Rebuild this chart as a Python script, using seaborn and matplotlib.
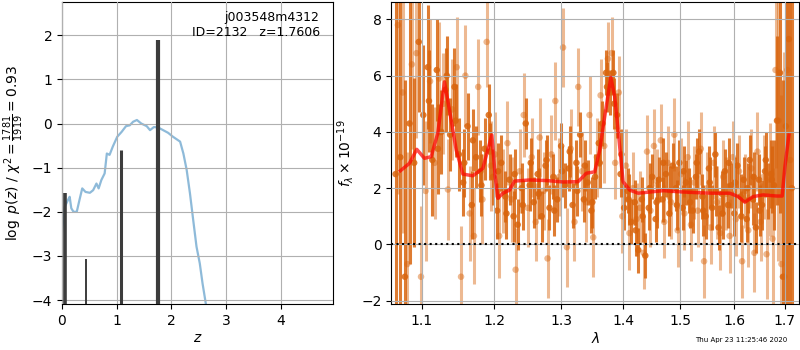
# Redshift fit summary: log p(z) on the left, 1D spectrum with model on the right.

import matplotlib
matplotlib.use("Agg")
import numpy as np
import pandas as pd
import seaborn as sns
import matplotlib.pyplot as plt
from matplotlib.ticker import NullLocator, NullFormatter

# ---- left panel: p(z) curve and chi2 spikes ----
z_grid = [0.0, 0.02, 0.05, 0.11, 0.14, 0.17, 0.21, 0.27, 0.32, 0.37, 0.43, 0.51,
          0.57, 0.63, 0.67, 0.72, 0.78, 0.82, 0.87, 0.93, 1.01, 1.09, 1.17, 1.24,
          1.30, 1.37, 1.45, 1.55, 1.61, 1.68, 1.76, 1.85, 1.94, 2.03, 2.16, 2.22,
          2.28, 2.34, 2.40, 2.46, 2.52, 2.57, 2.63, 2.68]
logp = [-2.45, -2.19, -1.89, -1.73, -1.66, -1.92, -2.00, -2.00, -1.73, -1.47, -1.55,
        -1.57, -1.51, -1.36, -1.47, -1.28, -1.13, -0.68, -0.71, -0.52, -0.30, -0.19,
        -0.06, -0.04, 0.04, 0.08, 0.00, -0.06, -0.15, -0.08, -0.09, -0.15, -0.21,
        -0.30, -0.41, -0.68, -1.05, -1.58, -2.19, -2.79, -3.17, -3.62, -4.08, -4.6]

spike_z = [0.05, 0.43, 1.08, 1.75]
spike_top = [-1.58, -3.06, -0.60, 1.89]
spike_width = [2.6, 1.4, 2.2, 3.0]

# ---- right panel: spectrum ----
wave_a = [1.066, 1.072, 1.078, 1.084, 1.090, 1.096, 1.102, 1.108, 1.114, 1.120,
          1.126, 1.132, 1.138, 1.144, 1.150, 1.156, 1.162, 1.168, 1.174, 1.180,
          1.186, 1.192, 1.198, 1.204, 1.210, 1.216, 1.222, 1.228, 1.234, 1.240,
          1.246, 1.252, 1.258, 1.264, 1.270, 1.276, 1.282, 1.288, 1.294, 1.300,
          1.306, 1.312, 1.318, 1.324, 1.330, 1.336, 1.342, 1.348, 1.354, 1.360,
          1.366, 1.372, 1.378, 1.384, 1.390, 1.396, 1.402, 1.408, 1.414, 1.420,
          1.426, 1.432, 1.438, 1.444, 1.450, 1.456, 1.462, 1.468, 1.474, 1.480,
          1.486, 1.492, 1.498, 1.504, 1.510, 1.516, 1.522, 1.528, 1.534, 1.540,
          1.546, 1.552, 1.558, 1.564, 1.570, 1.576, 1.582, 1.588, 1.594, 1.600,
          1.606, 1.612, 1.618, 1.624, 1.630, 1.636, 1.642, 1.648, 1.654, 1.660,
          1.666, 1.672, 1.678, 1.684, 1.690, 1.696, 1.702, 1.708, 1.714]
flux_a = [2.5, 3.1, -1.15, 4.3, 2.9, 7.2, 4.6, 6.3, 3.0, 6.2,
          4.0, 5.5, 3.9, 5.6, 3.2, 2.2, 4.2, 1.4, 3.1, 2.6,
          3.4, 4.6, 2.4, 1.2, 2.9, 1.7, 2.3, 1.0, 0.7, 2.0,
          4.3, 2.1, 1.5, 2.5, 1.0, 2.8, 1.3, 2.4, 1.6, 3.5,
          2.1, 2.7, 1.4, 2.9, 3.9, 1.6, 2.2, 1.2, 2.4, 3.6,
          4.3, 6.1, 5.4, 6.1, 4.6, 2.5, 1.3, 1.9, 0.8, 1.5,
          -0.2, 1.6, -0.4, 1.3, 2.4, 0.9, 2.3, 1.6, 2.5, 1.1,
          2.8, 2.0, 2.9, 1.3, 2.2, 1.9, 1.2, 2.4, 3.3, 1.7,
          1.0, 2.7, 1.3, 3.2, 0.6, 1.8, 2.6, 1.4, 2.1, 1.1,
          2.8, 1.7, 2.3, 0.9, 3.0, 1.6, 0.6, 2.3, 1.4, 2.6,
          1.9, 2.5, 2.1, 4.4, 6.1, -1.15, 4.2, 7.3, 2.0]
err_a = [8, 9, 7, 5, 3, 2.5, 2.5, 2.2, 2.0, 1.8,
         1.5, 1.5, 1.3, 1.4, 1.3, 1.2, 1.2, 1.2, 1.1, 1.1,
         1.1, 1.1, 1.0, 1.0, 1.0, 0.9, 0.9, 0.9, 0.9, 0.9,
         0.9, 0.9, 0.9, 0.9, 0.9, 0.9, 0.8, 0.8, 0.8, 0.8,
         0.8, 0.8, 0.8, 0.8, 0.8, 0.8, 0.8, 0.8, 0.8, 0.8,
         0.8, 0.8, 0.8, 0.8, 0.8, 0.8, 0.8, 0.8, 0.8, 0.8,
         0.8, 0.8, 0.8, 0.8, 0.8, 0.8, 0.8, 0.8, 0.8, 0.8,
         0.8, 0.8, 0.8, 0.8, 0.8, 0.8, 0.8, 0.8, 0.8, 0.8,
         0.8, 0.8, 0.8, 0.8, 0.8, 0.8, 0.8, 0.8, 0.8, 0.8,
         0.8, 0.8, 0.8, 0.8, 0.9, 0.9, 0.9, 0.9, 0.9, 0.9,
         1.0, 1.2, 1.6, 3.0, 5, 7, 9, 10, 12]

wave_b = [1.069, 1.075, 1.081, 1.087, 1.093, 1.099, 1.105, 1.111, 1.117, 1.123,
          1.129, 1.135, 1.141, 1.147, 1.153, 1.159, 1.165, 1.171, 1.177, 1.183,
          1.189, 1.195, 1.201, 1.207, 1.213, 1.219, 1.225, 1.231, 1.237, 1.243,
          1.249, 1.255, 1.261, 1.267, 1.273, 1.279, 1.285, 1.291, 1.297, 1.303,
          1.309, 1.315, 1.321, 1.327, 1.333, 1.339, 1.345, 1.351, 1.357, 1.363,
          1.369, 1.375, 1.381, 1.387, 1.393, 1.399, 1.405, 1.411, 1.417, 1.423,
          1.429, 1.435, 1.441, 1.447, 1.453, 1.459, 1.465, 1.471, 1.477, 1.483,
          1.489, 1.495, 1.501, 1.507, 1.513, 1.519, 1.525, 1.531, 1.537, 1.543,
          1.549, 1.555, 1.561, 1.567, 1.573, 1.579, 1.585, 1.591, 1.597, 1.603,
          1.609, 1.615, 1.621, 1.627, 1.633, 1.639, 1.645, 1.651, 1.657, 1.663,
          1.669, 1.675, 1.681, 1.687, 1.693, 1.699, 1.705, 1.711]
flux_b = [7.8, 5.4, -0.7, 6.4, 6.8, -1.15, 1.9, 5.8, 2.9, 5.9,
          5.0, 1.95, 4.8, 6.3, -1.15, 6.0, 1.1, 0.3, 5.6, 1.6,
          7.2, 2.8, 3.2, 0.3, 1.9, 3.6, 1.6, -0.9, 2.6, 4.6,
          1.3, 3.1, 0.8, 3.8, 1.9, -0.5, 3.2, 5.1, 2.4, 7.0,
          -0.1, 3.4, 0.8, 5.6, 2.6, 1.5, 4.6, 0.25, 3.1, 5.3,
          3.5, 6.6, 6.8, 2.9, 5.4, 1.0, 2.8, 0.4, 2.0, 0.9,
          1.3, -0.3, 3.3, 1.2, 3.5, 2.1, 3.7, 0.8, 2.9, 1.5,
          3.9, 0.5, 2.5, 1.1, 3.1, 0.7, 2.2, 1.2, 3.4, -0.6,
          2.0, 0.6, 2.9, 1.5, 0.4, 2.4, 1.8, 0.3, 3.1, 0.9,
          2.6, -0.6, 1.9, 0.5, 2.7, -0.3, 3.3, 0.8, 2.4, -0.35,
          2.3, 0.2, 6.2, 4.4, -0.7, -1.15, 6.2, 3.0]
err_b = [6, 5, 4, 3, 3, 2.5, 2.5, 2.2, 2.0, 2.0,
         1.8, 1.8, 1.8, 1.8, 1.8, 1.8, 1.7, 1.7, 1.7, 1.6,
         1.6, 1.6, 1.5, 1.5, 1.5, 1.5, 1.5, 1.5, 1.5, 1.5,
         1.4, 1.4, 1.4, 1.4, 1.4, 1.4, 1.4, 1.4, 1.4, 1.4,
         1.4, 1.4, 1.4, 1.4, 1.4, 1.4, 1.4, 1.4, 1.4, 1.3,
         1.3, 1.3, 1.3, 1.3, 1.3, 1.3, 1.3, 1.3, 1.3, 1.3,
         1.3, 1.3, 1.3, 1.3, 1.3, 1.3, 1.3, 1.3, 1.3, 1.3,
         1.3, 1.3, 1.3, 1.3, 1.3, 1.3, 1.3, 1.3, 1.3, 1.3,
         1.3, 1.3, 1.3, 1.3, 1.3, 1.3, 1.3, 1.3, 1.3, 1.3,
         1.3, 1.3, 1.3, 1.3, 1.4, 1.4, 1.4, 1.4, 1.5, 1.6,
         2.0, 2.5, 3.5, 5, 6, 8, 9, 10]

wave_c = [1.1095, 1.1215, 1.1335, 1.1455, 1.1575, 1.1695, 1.1815, 1.1935,
          1.2055, 1.2175, 1.2295, 1.2415, 1.2535, 1.2655, 1.2775, 1.2895,
          1.3015, 1.3135, 1.3255, 1.3375, 1.3495, 1.3615, 1.3735, 1.3855,
          1.3975, 1.4095, 1.4215, 1.4335, 1.4455, 1.4575, 1.4695, 1.4815,
          1.4935, 1.5055, 1.5175, 1.5295, 1.5415, 1.5535, 1.5655, 1.5775,
          1.5895, 1.6015, 1.6135, 1.6255, 1.6375, 1.6495, 1.6615, 1.6735]
flux_c = [5.1, 3.4, 6.0, 4.4, 2.9, 3.7, 2.1, 3.3,
          2.6, 1.1, 2.5, 1.4, 2.9, 1.8, 3.0, 1.2,
          2.6, 3.3, 1.9, 2.8, 1.5, 2.9, 5.6, 5.0,
          3.2, 1.6, 0.5, 1.0, 2.0, 1.5, 2.9, 1.9,
          1.4, 2.6, 1.5, 2.9, 1.2, 2.2, 1.9, 1.1,
          2.9, 2.2, 1.0, 2.0, 2.4, 1.2, 3.0, 2.3]
err_c = [1.8, 1.6, 1.4, 1.3, 1.2, 1.1, 1.1, 1.0,
         1.0, 0.9, 0.9, 0.9, 0.9, 0.9, 0.9, 0.9,
         0.9, 0.9, 0.9, 0.9, 0.9, 0.9, 0.9, 0.9,
         0.9, 0.9, 0.9, 0.9, 0.9, 0.9, 0.9, 0.9,
         0.9, 0.9, 0.9, 0.9, 0.9, 0.9, 0.9, 0.9,
         0.9, 0.9, 0.9, 0.9, 0.9, 0.9, 1.0, 1.2]

model_wave = [1.0722, 1.0838, 1.0934, 1.1035, 1.1124, 1.1213, 1.1303, 1.1371,
              1.1463, 1.1555, 1.1694, 1.1835, 1.1906, 1.1964, 1.2012, 1.2050,
              1.2123, 1.2220, 1.2294, 1.2517, 1.2771, 1.3029, 1.3266, 1.3399,
              1.3534, 1.3616, 1.3697, 1.3797, 1.3863, 1.3935, 1.4002, 1.4115,
              1.4256, 1.4691, 1.4987, 1.5290, 1.5598, 1.5913, 1.6073, 1.6203,
              1.6366, 1.6563, 1.6830, 1.6945, 1.7000, 1.7082]
model_flux = [2.62, 2.88, 3.38, 3.06, 3.12, 3.95, 5.78, 4.78,
              3.36, 2.50, 2.44, 2.70, 3.36, 3.89, 2.41, 1.64,
              1.82, 1.93, 2.25, 2.29, 2.27, 2.22, 2.23, 2.53,
              2.58, 3.36, 4.54, 5.94, 5.25, 3.71, 2.23, 1.93,
              1.82, 1.91, 1.87, 1.84, 1.82, 1.82, 1.70, 1.50,
              1.70, 1.76, 1.72, 1.72, 2.76, 3.89]

wave_ticks = [1.1, 1.2, 1.3, 1.4, 1.5, 1.6, 1.7]
orange = "#d9650e"

fig = plt.figure(figsize=(8, 3.5), dpi=100)
ax1 = fig.add_axes([0.0775, 0.1314, 0.339, 0.863])
ax2 = fig.add_axes([0.489, 0.1314, 0.51, 0.863])

# left panel
ax1.vlines(spike_z, -4.09, spike_top, colors="#3c3c3c", linewidths=spike_width, zorder=3)
sns.lineplot(x=z_grid, y=logp, ax=ax1, color="#1f77b4", alpha=0.5, lw=1.6,
             sort=False, estimator=None, zorder=2)
ax1.set_xlim(0, 4.96)
ax1.set_ylim(-4.09, 2.755)
ax1.set_xticks([0, 1, 2, 3, 4])
ax1.set_yticks([-4, -3, -2, -1, 0, 1, 2])
ax1.grid(True, color="#b0b0b0")
ax1.set_axisbelow(False)
ax1.set_xlabel("$z$", labelpad=2)
ax1.set_ylabel(r"$\log\ p(z)$ / $\chi^2=\frac{1781}{1919}=0.93$")
ax1.text(0.95, 0.97, "j003548m4312\nID=2132   z=1.7606", transform=ax1.transAxes,
         ha="right", va="top", fontsize=9)

# right panel: three sets of points, lighter ones first
ax2.set_xscale("log")
ax2.errorbar(wave_b, flux_b, yerr=err_b, fmt="none", ecolor=orange, alpha=0.45,
             elinewidth=2.2, zorder=1)
sns.scatterplot(x=wave_b, y=flux_b, ax=ax2, color=orange, alpha=0.45, s=22,
                edgecolor="none", zorder=1)
for w, f, e in [(wave_c, flux_c, err_c), (wave_a, flux_a, err_a)]:
    ax2.errorbar(w, f, yerr=e, fmt="none", ecolor=orange, alpha=0.85,
                 elinewidth=2.2, zorder=1)
    sns.scatterplot(x=w, y=f, ax=ax2, color=orange, alpha=0.85, s=22,
                    edgecolor="none", zorder=1)
sns.lineplot(x=model_wave, y=model_flux, ax=ax2, color="red", alpha=0.7, lw=2.5,
             sort=False, estimator=None, zorder=4)
ax2.axhline(0, color="k", ls=":", lw=1.5, zorder=4)
ax2.set_xlim(1.0604, 1.7294)
ax2.set_ylim(-2.12, 8.62)
ax2.set_xticks(wave_ticks)
ax2.set_xticklabels([str(w) for w in wave_ticks])
ax2.xaxis.set_minor_locator(NullLocator())
ax2.xaxis.set_minor_formatter(NullFormatter())
ax2.set_yticks([-2, 0, 2, 4, 6, 8])
ax2.grid(True, color="#b0b0b0", zorder=3)
ax2.set_axisbelow(False)
ax2.set_xlabel(r"$\lambda$", labelpad=2)
ax2.set_ylabel(r"$f_\lambda\times10^{-19}$")

fig.text(0.984, 0.028, "Thu Apr 23 11:25:46 2020", ha="right", va="center", fontsize=5)

fig.savefig("out.png", dpi=100)
